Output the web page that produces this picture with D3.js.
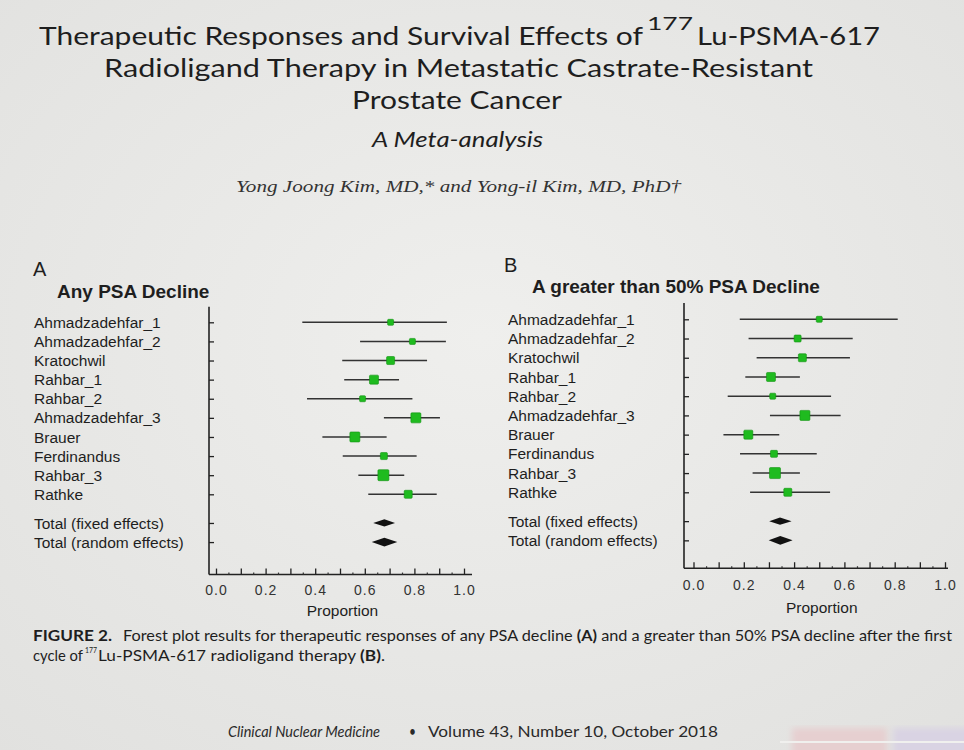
<!DOCTYPE html>
<html>
<head>
<meta charset="utf-8">
<script src="https://cdn.jsdelivr.net/npm/d3@7"></script>
<style>
  html, body { margin: 0; padding: 0; background: #e8e8e6; }
  svg { display: block; }
</style>
</head>
<body>
<div id="chart"></div>
<script>
// ---------------- DATA ----------------
const studies = ["Ahmadzadehfar_1", "Ahmadzadehfar_2", "Kratochwil", "Rahbar_1", "Rahbar_2",
                 "Ahmadzadehfar_3", "Brauer", "Ferdinandus", "Rahbar_3", "Rathke"];
const totalLabels = ["Total (fixed effects)", "Total (random effects)"];

// Panel A: Any PSA decline (proportion, 95% CI, weight %)
const estA  = [0.704, 0.792, 0.704, 0.637, 0.591, 0.806, 0.560, 0.677, 0.675, 0.775];
const lowA  = [0.348, 0.581, 0.509, 0.517, 0.367, 0.677, 0.429, 0.511, 0.574, 0.614];
const highA = [0.931, 0.927, 0.851, 0.738, 0.792, 0.903, 0.688, 0.809, 0.759, 0.890];
const wA    = [5.2, 5.2, 9.3, 11.7, 5.2, 14.5, 14.5, 7.1, 17.5, 9.3];
const fixedA  = [0.634, 0.679, 0.722];
const randomA = [0.628, 0.679, 0.731];

// Panel B: >50% PSA decline
const estB  = [0.500, 0.414, 0.433, 0.308, 0.315, 0.443, 0.218, 0.320, 0.324, 0.375];
const lowB  = [0.184, 0.219, 0.251, 0.206, 0.136, 0.304, 0.119, 0.185, 0.235, 0.225];
const highB = [0.812, 0.633, 0.622, 0.423, 0.547, 0.585, 0.341, 0.490, 0.423, 0.543];
const wB    = [5.2, 7.1, 9.3, 11.7, 5.2, 14.5, 11.7, 7.1, 17.5, 9.3];
const fixedB  = [0.301, 0.344, 0.390];
const randomB = [0.299, 0.345, 0.394];

const xTicks = [0, 0.1, 0.2, 0.3, 0.4, 0.5, 0.6, 0.7, 0.8, 0.9, 1.0];
const xTickLabels = ["0.0", "", "0.2", "", "0.4", "", "0.6", "", "0.8", "", "1.0"];
const xMinor = [0.05, 0.15, 0.25, 0.35, 0.45, 0.55, 0.65, 0.75, 0.85, 0.95];

// ---------------- DRAW ----------------
const W = 964, H = 750;
const svg = d3.select("#chart").append("svg").attr("width", W).attr("height", H);

const defs = svg.append("defs");
const grad = defs.append("radialGradient").attr("id", "bg").attr("cx", "50%").attr("cy", "45%").attr("r", "75%");
grad.append("stop").attr("offset", "0%").attr("stop-color", "#efefed");
grad.append("stop").attr("offset", "100%").attr("stop-color", "#e1e1df");
defs.append("filter").attr("id", "blur").append("feGaussianBlur").attr("stdDeviation", 3);

svg.append("rect").attr("width", W).attr("height", H).attr("fill", "url(#bg)");

// photo artifacts bottom right
svg.append("rect").attr("x", 792).attr("y", 728).attr("width", 95).attr("height", 30)
   .attr("fill", "#e6cfd0").attr("filter", "url(#blur)");
svg.append("rect").attr("x", 893).attr("y", 728).attr("width", 80).attr("height", 30)
   .attr("fill", "#d9d3e3").attr("filter", "url(#blur)");
svg.append("rect").attr("x", 780).attr("y", 741).attr("width", 184).attr("height", 2)
   .attr("fill", "#f0f0ee");

const ink = "#1e1e1e";
const titleFont = "Lato, 'Open Sans', sans-serif";

function fitText(x, y, str, len, opts = {}) {
  return svg.append("text")
    .attr("x", x).attr("y", y)
    .attr("textLength", len).attr("lengthAdjust", "spacingAndGlyphs")
    .attr("font-family", opts.family || titleFont)
    .attr("font-size", opts.size || 16)
    .attr("font-style", opts.style || "normal")
    .attr("font-weight", opts.weight || "normal")
    .attr("fill", opts.fill || ink)
    .text(str);
}

// Title
fitText(39, 45, "Therapeutic Responses and Survival Effects of", 604, {size: 25.5});
fitText(647, 30, "177", 46, {size: 17});
fitText(697, 45, "Lu-PSMA-617", 183, {size: 25.5});
fitText(104, 77, "Radioligand Therapy in Metastatic Castrate-Resistant", 709, {size: 25.5});
fitText(352, 108.5, "Prostate Cancer", 210, {size: 25.5});
fitText(372, 147, "A Meta-analysis", 171, {size: 21, style: "italic"});
fitText(236, 192, "Yong Joong Kim, MD,* and Yong-il Kim, MD, PhD\u2020", 445,
        {size: 17, style: "italic", family: "'Liberation Serif', 'DejaVu Serif', serif", fill: "#333"});

// Caption
fitText(33, 641, "FIGURE 2.", 79, {size: 15, weight: "bold"});
const cap1 = svg.append("text").attr("x", 123).attr("y", 641)
  .attr("textLength", 829).attr("lengthAdjust", "spacingAndGlyphs")
  .attr("font-family", titleFont).attr("font-size", 15).attr("fill", ink);
cap1.append("tspan").text("Forest plot results for therapeutic responses of any PSA decline ");
cap1.append("tspan").attr("font-weight", "bold").text("(A)");
cap1.append("tspan").text(" and a greater than 50% PSA decline after the first");
fitText(33, 661, "cycle of", 50, {size: 15});
fitText(85, 653, "177", 12, {size: 8});
const cap2 = svg.append("text").attr("x", 98).attr("y", 661)
  .attr("textLength", 287).attr("lengthAdjust", "spacingAndGlyphs")
  .attr("font-family", titleFont).attr("font-size", 15).attr("fill", ink);
cap2.append("tspan").text("Lu-PSMA-617 radioligand therapy ");
cap2.append("tspan").attr("font-weight", "bold").text("(B)");
cap2.append("tspan").text(".");

// Footer
fitText(228, 737, "Clinical Nuclear Medicine", 152, {size: 16, style: "italic", fill: "#2a2a2a"});
fitText(409, 737, "\u2022", 7, {size: 16, fill: "#2a2a2a"});
fitText(428, 737, "Volume 43, Number 10, October 2018", 290, {size: 16, fill: "#2a2a2a"});

// ---------- Forest panels ----------
function forest(cfg) {
  const g = svg.append("g");
  const x = d3.scaleLinear().domain([0, 1]).range([cfg.x0, cfg.x1]);
  const y = d3.scaleLinear().domain([0, 9]).range([cfg.y0, cfg.y9]);
  const size = d3.scaleSqrt().domain([0, 17.5]).range([0, 11]);
  const labelFont = "'Liberation Sans', Arial, sans-serif";

  // panel letter + heading
  g.append("text").attr("x", cfg.letterX).attr("y", cfg.letterY)
    .attr("font-family", labelFont).attr("font-size", 20).attr("fill", ink).text(cfg.letter);
  g.append("text").attr("x", cfg.headX).attr("y", cfg.headY)
    .attr("font-family", labelFont).attr("font-size", 19).attr("font-weight", "bold")
    .attr("fill", ink).text(cfg.heading);

  const rowPos = studies.map((d, i) => i);
  const totPos = [10.5, 11.5];

  // row labels
  g.selectAll("text.study").data(studies).join("text").attr("class", "study")
    .attr("x", cfg.labelX).attr("y", (d, i) => y(rowPos[i]))
    .attr("dy", "0.36em").attr("font-family", labelFont).attr("font-size", 15.5)
    .attr("fill", ink).text(d => d);
  g.selectAll("text.tot").data(totalLabels).join("text").attr("class", "tot")
    .attr("x", cfg.labelX).attr("y", (d, i) => y(totPos[i]))
    .attr("dy", "0.36em").attr("font-family", labelFont).attr("font-size", 15.5)
    .attr("fill", ink).text(d => d);

  // axes lines
  const axTop = y(cfg.axTopRow), axBot = y(cfg.axBotRow);
  g.append("line").attr("x1", cfg.axX).attr("x2", cfg.axX).attr("y1", axTop).attr("y2", axBot)
    .attr("stroke", "#222").attr("stroke-width", 1.6);
  g.append("line").attr("x1", cfg.axX).attr("x2", cfg.axEnd).attr("y1", axBot).attr("y2", axBot)
    .attr("stroke", "#222").attr("stroke-width", 1.6);

  // y ticks
  const yAxis = d3.axisRight(y).tickValues(rowPos.concat(totPos)).tickSize(5).tickFormat("");
  const ya = g.append("g").attr("transform", `translate(${cfg.axX},0)`).call(yAxis);
  ya.select(".domain").remove();
  ya.selectAll("line").attr("stroke", "#222").attr("stroke-width", 1.3);

  // x ticks (pointing up)
  const xAxis = d3.axisBottom(x).tickValues(xTicks).tickSize(-6).tickSizeOuter(0)
    .tickFormat((d, i) => xTickLabels[i]);
  const xa = g.append("g").attr("transform", `translate(0,${axBot})`).call(xAxis);
  xa.select(".domain").remove();
  xa.selectAll("line").attr("stroke", "#222").attr("stroke-width", 1.3);
  xa.selectAll("text").attr("y", cfg.tickLabelDy).attr("dy", "0")
    .attr("font-family", labelFont).attr("font-size", 14).attr("letter-spacing", "1px")
    .attr("fill", "#333");
  const xm = g.append("g").attr("transform", `translate(0,${axBot})`)
    .call(d3.axisBottom(x).tickValues(xMinor).tickSize(-2).tickFormat(""));
  xm.select(".domain").remove();
  xm.selectAll("line").attr("stroke", "#333").attr("stroke-width", 1.2);

  g.append("text").attr("x", x(0.51)).attr("y", cfg.propY).attr("text-anchor", "middle")
    .attr("font-family", labelFont).attr("font-size", 15.5).attr("fill", ink).text("Proportion");

  // CI lines
  g.selectAll("line.ci").data(cfg.est).join("line").attr("class", "ci")
    .attr("x1", (d, i) => x(cfg.low[i])).attr("x2", (d, i) => x(cfg.high[i]))
    .attr("y1", (d, i) => y(rowPos[i])).attr("y2", (d, i) => y(rowPos[i]))
    .attr("stroke", "#333").attr("stroke-width", 1.5);
  // squares
  g.selectAll("rect.pt").data(cfg.est).join("rect").attr("class", "pt")
    .attr("x", (d, i) => x(d) - size(cfg.w[i]) / 2)
    .attr("y", (d, i) => y(rowPos[i]) - size(cfg.w[i]) / 2)
    .attr("width", (d, i) => size(cfg.w[i])).attr("height", (d, i) => size(cfg.w[i]))
    .attr("rx", 1)
    .attr("fill", "#1fbb1f").attr("stroke", "#129212").attr("stroke-width", 0.6);

  // diamonds
  const tots = [cfg.fixed, cfg.random];
  const dh = [3.6, 4.4];
  g.selectAll("path.dia").data(tots).join("path").attr("class", "dia")
    .attr("d", (d, i) => {
      const yy = y(totPos[i]);
      return `M${x(d[0])},${yy} L${x(d[1])},${yy - dh[i]} L${x(d[2])},${yy} L${x(d[1])},${yy + dh[i]} Z`;
    })
    .attr("fill", "#111");
}

forest({
  letter: "A", letterX: 33, letterY: 276, heading: "Any PSA Decline", headX: 57, headY: 298,
  labelX: 34, x0: 216, x1: 464, y0: 322.3, y9: 494.3, axX: 209, axEnd: 472,
  axTopRow: -0.82, axBotRow: 13.2, tickLabelDy: 20, propY: 616,
  est: estA, low: lowA, high: highA, w: wA, fixed: fixedA, random: randomA
});

forest({
  letter: "B", letterX: 504, letterY: 272, heading: "A greater than 50% PSA Decline", headX: 532, headY: 293,
  labelX: 508, x0: 693.5, x1: 945, y0: 319.3, y9: 492.3, axX: 684, axEnd: 948,
  axTopRow: -0.85, axBotRow: 12.95, tickLabelDy: 22, propY: 613,
  est: estB, low: lowB, high: highB, w: wB, fixed: fixedB, random: randomB
});
</script>
</body>
</html>
